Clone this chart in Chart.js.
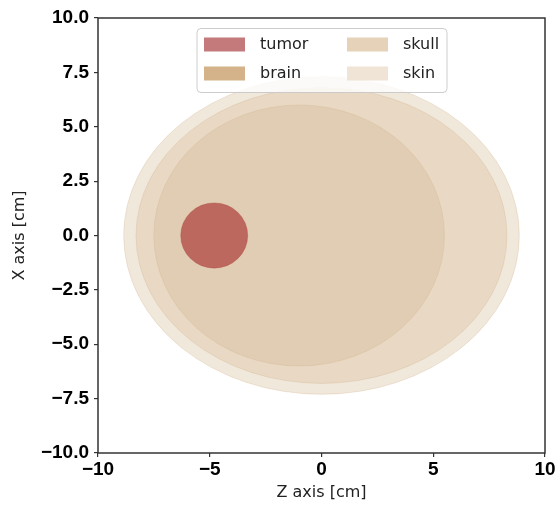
<!DOCTYPE html>
<html>
<head>
<meta charset="utf-8">
<script src="https://cdn.jsdelivr.net/npm/chart.js@4"></script>
<style>
  html, body { margin: 0; padding: 0; background: #fff; }
  #wrap { width: 558px; height: 506px; }
</style>
</head>
<body>
<div id="wrap"><canvas id="myChart" width="558" height="506"></canvas></div>
<script>
// 組織ごとの楕円（中心と半径, 単位 cm）
const tissues = ['tumor', 'brain', 'skull', 'skin'];
const centerZ = [-4.8, -1.0, 0, 0];
const centerX = [0, 0, 0, 0];
const radiusZ = [1.5, 6.5, 8.3, 8.85];
const radiusX = [1.5, 6.0, 6.8, 7.3];
const fillColors = [
    'rgba(165, 42, 42, 0.62)',
    'rgba(210, 180, 140, 0.30)',
    'rgba(210, 180, 140, 0.30)',
    'rgba(210, 180, 140, 0.30)'
];
const edgeColors = [
    'rgba(165, 42, 42, 0.25)',
    'rgba(210, 180, 140, 0.30)',
    'rgba(210, 180, 140, 0.30)',
    'rgba(210, 180, 140, 0.30)'
];
const legendColors = ['#c47a7a', '#d4b38a', '#e5d2b8', '#efe4d6'];
const xTicks = [-10, -5, 0, 5, 10];
const yTicks = [-10, -7.5, -5, -2.5, 0, 2.5, 5, 7.5, 10];

// マイナス記号は U+2212
const fmt = (v, digits) => (v < 0 ? '\u2212' : '') + Math.abs(v).toFixed(digits);

// 楕円を軸のスケールで描く
const ellipsePlugin = {
    id: 'ellipses',
    beforeDatasetsDraw(chart) {
        const ctx = chart.ctx;
        const xs = chart.scales.x, ys = chart.scales.y;
        const area = chart.chartArea;
        ctx.save();
        ctx.beginPath();
        ctx.rect(area.left, area.top, area.right - area.left, area.bottom - area.top);
        ctx.clip();
        for (let i = tissues.length - 1; i >= 0; i--) {
            const cx = xs.getPixelForValue(centerZ[i]);
            const cy = ys.getPixelForValue(centerX[i]);
            const rx = Math.abs(xs.getPixelForValue(centerZ[i] + radiusZ[i]) - cx);
            const ry = Math.abs(ys.getPixelForValue(centerX[i] + radiusX[i]) - cy);
            ctx.beginPath();
            ctx.ellipse(cx, cy, rx, ry, 0, 0, Math.PI * 2);
            ctx.fillStyle = fillColors[i];
            ctx.fill();
            ctx.lineWidth = 1;
            ctx.strokeStyle = edgeColors[i];
            ctx.stroke();
        }
        ctx.restore();
    }
};

// 枠線と凡例
const framePlugin = {
    id: 'frameLegend',
    afterDatasetsDraw(chart) {
        const ctx = chart.ctx;
        const a = chart.chartArea;
        ctx.save();
        ctx.strokeStyle = '#333';
        ctx.lineWidth = 1.5;
        ctx.strokeRect(a.left, a.top, a.right - a.left, a.bottom - a.top);

        const w = 250, h = 64;
        const left = (a.left + a.right) / 2 - w / 2 + 0.5;
        const top = a.top + 10.5;
        ctx.beginPath();
        ctx.roundRect(left, top, w, h, 4);
        ctx.fillStyle = 'rgba(255,255,255,0.8)';
        ctx.fill();
        ctx.strokeStyle = 'rgba(200,200,200,0.9)';
        ctx.lineWidth = 1;
        ctx.stroke();

        ctx.font = '16px "DejaVu Sans"';
        ctx.textBaseline = 'middle';
        tissues.forEach((name, i) => {
            const col = i < 2 ? 0 : 1;
            const row = i % 2;
            const px = left + 7 + col * 143;
            const py = top + 16 + row * 29;
            ctx.fillStyle = legendColors[i];
            ctx.fillRect(px, py - 7, 41, 14);
            ctx.fillStyle = '#222';
            ctx.fillText(name, px + 56, py);
        });
        ctx.restore();
    }
};

const ctx = document.getElementById('myChart').getContext('2d');
const myChart = new Chart(ctx, {
    type: 'scatter',
    data: {
        datasets: tissues.map((name, i) => ({
            label: name,
            data: [{ x: centerZ[i], y: centerX[i] }],
            pointRadius: 0,
            backgroundColor: legendColors[i]
        }))
    },
    options: {
        responsive: false,
        animation: false,
        layout: { padding: { top: 18, right: 13, left: 6, bottom: 0 } },
        plugins: {
            legend: { display: false },
            tooltip: { enabled: false }
        },
        scales: {
            x: {
                min: -10, max: 10,
                afterBuildTicks: s => { s.ticks = xTicks.map(v => ({ value: v })); },
                afterFit: s => { s.height = 53; },
                grid: { drawOnChartArea: false, tickLength: 4, color: '#333', lineWidth: 1.2 },
                border: { display: false },
                ticks: {
                    color: '#000', padding: 1, maxRotation: 0,
                    font: { family: '"Liberation Sans"', size: 19, weight: 'bold' },
                    callback: v => fmt(v, 0)
                },
                title: {
                    display: true, text: 'Z axis [cm]', color: '#222', padding: { top: 0 },
                    font: { family: '"DejaVu Sans"', size: 16 }
                }
            },
            y: {
                min: -10, max: 10,
                afterBuildTicks: s => { s.ticks = yTicks.map(v => ({ value: v })); },
                afterFit: s => { s.width = 92; },
                grid: { drawOnChartArea: false, tickLength: 4, color: '#333', lineWidth: 1.2 },
                border: { display: false },
                ticks: {
                    color: '#000', padding: 5,
                    font: { family: '"Liberation Sans"', size: 19, weight: 'bold' },
                    callback: v => fmt(v, 1)
                },
                title: {
                    display: true, text: 'X axis [cm]', color: '#222', padding: { bottom: 0 },
                    font: { family: '"DejaVu Sans"', size: 16 }
                }
            }
        }
    },
    plugins: [ellipsePlugin, framePlugin]
});
</script>
</body>
</html>
